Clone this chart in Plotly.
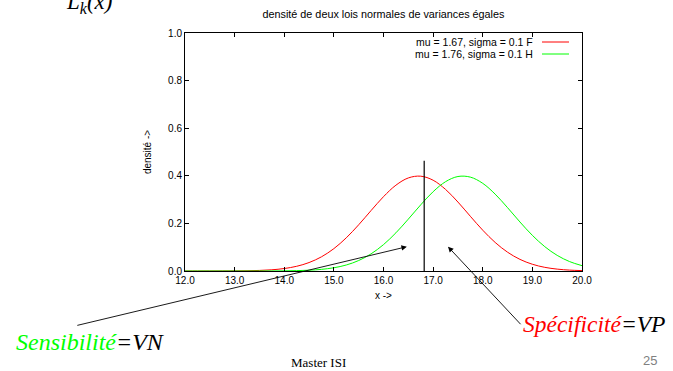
import plotly.graph_objects as go

# ---- data ----
x_vals = [12.0, 12.25, 12.5, 12.75, 13.0, 13.25, 13.5, 13.75, 14.0, 14.25, 14.5, 14.75,
          15.0, 15.25, 15.5, 15.75, 16.0, 16.25, 16.5, 16.75, 17.0, 17.25, 17.5, 17.75,
          18.0, 18.25, 18.5, 18.75, 19.0, 19.25, 19.5, 19.75, 20.0]
red_F = [0.0000, 0.0000, 0.0001, 0.0002, 0.0004, 0.0010, 0.0024, 0.0051, 0.0104, 0.0198,
         0.0355, 0.0596, 0.0940, 0.1394, 0.1942, 0.2541, 0.3123, 0.3605, 0.3910, 0.3984,
         0.3814, 0.3429, 0.2897, 0.2299, 0.1714, 0.1200, 0.0790, 0.0488, 0.0283, 0.0154,
         0.0079, 0.0038, 0.0017]
green_H = [0.0000, 0.0000, 0.0000, 0.0000, 0.0000, 0.0000, 0.0001, 0.0002, 0.0006, 0.0015,
           0.0033, 0.0069, 0.0136, 0.0252, 0.0440, 0.0721, 0.1109, 0.1604, 0.2179, 0.2780,
           0.3332, 0.3752, 0.3970, 0.3945, 0.3683, 0.3230, 0.2661, 0.2059, 0.1497, 0.1023,
           0.0656, 0.0396, 0.0224]
series_names = ["mu = 1.67, sigma = 0.1 F", "mu = 1.76, sigma = 0.1 H"]
threshold_x = [16.82, 16.82]
threshold_y = [0.0, 0.463]
x_ticks = [12, 13, 14, 15, 16, 17, 18, 19, 20]
y_ticks = [0.0, 0.2, 0.4, 0.6, 0.8, 1.0]

RED = "#ff0000"
GREEN = "#00ff00"
SANS = "Liberation Sans, Arial, sans-serif"
SERIF = "Liberation Serif, Times New Roman, serif"

fig = go.Figure()
fig.add_trace(go.Scatter(x=x_vals, y=red_F, mode="lines", line=dict(color=RED, width=1, shape="spline"),
                         name=series_names[0], showlegend=False))
fig.add_trace(go.Scatter(x=x_vals, y=green_H, mode="lines", line=dict(color=GREEN, width=1, shape="spline"),
                         name=series_names[1], showlegend=False))
fig.add_trace(go.Scatter(x=threshold_x, y=threshold_y, mode="lines", line=dict(color="black", width=1.2),
                         showlegend=False, hoverinfo="skip"))

axis_common = dict(showline=True, linecolor="black", linewidth=1, mirror="ticks", ticks="inside",
                   ticklen=4, tickcolor="black", showgrid=False, zeroline=False,
                   tickfont=dict(family=SANS, size=10, color="black"))

fig.update_layout(
    width=673, height=371,
    margin=dict(l=185, r=91, t=33, b=100),
    paper_bgcolor="white", plot_bgcolor="white",
    title=dict(text="densité de deux lois normales de variances égales", x=383.5 / 673, xanchor="center",
               y=1 - 14 / 371, yanchor="middle", font=dict(family=SANS, size=10.8, color="black")),
    xaxis=dict(range=[12, 20], tickvals=x_ticks, tickformat=".1f",
               title=dict(text="x ->", font=dict(family=SANS, size=10, color="black"), standoff=6),
               **axis_common),
    yaxis=dict(range=[0, 1], tickvals=y_ticks, tickformat=".1f",
               title=dict(text="densité ->", font=dict(family=SANS, size=10, color="black"), standoff=14),
               **axis_common),
)

def py2paper(py):
    return (271 - py) / 238

def px2paper(px):
    return (px - 185) / 397

# legend (gnuplot style: text right-aligned, sample line to the right)
legend_rows = [(series_names[0], RED, 42), (series_names[1], GREEN, 54)]
for label, col, py in legend_rows:
    yp = py2paper(py)
    fig.add_annotation(xref="paper", yref="paper", x=px2paper(535), y=yp, text=label,
                       showarrow=False, xanchor="right", yanchor="middle",
                       font=dict(family=SANS, size=10.5, color="black"))
    fig.add_shape(type="line", xref="paper", yref="paper", x0=px2paper(542), x1=px2paper(569),
                  y0=yp, y1=yp, line=dict(color=col, width=1))

# arrows
fig.add_annotation(x=16.47, y=0.102, xref="x", yref="y", ax=-331, ay=79, text="", showarrow=True,
                   arrowhead=2, arrowsize=1.2, arrowwidth=0.9, arrowcolor="black")
fig.add_annotation(x=17.30, y=0.102, xref="x", yref="y", ax=74, ay=79, text="", showarrow=True,
                   arrowhead=2, arrowsize=1.2, arrowwidth=0.9, arrowcolor="black")

fig.add_annotation(xref="paper", yref="paper", x=px2paper(14), y=py2paper(342), xanchor="left", yanchor="middle",
                   showarrow=False, text="<i><span style='color:#00ff00'>Sensibilité</span>=VN</i>",
                   font=dict(family=SERIF, size=24, color="black"))
fig.add_annotation(xref="paper", yref="paper", x=px2paper(521), y=py2paper(324), xanchor="left", yanchor="middle",
                   showarrow=False, text="<i><span style='color:#ff0000'>Spécificité</span>=VP</i>",
                   font=dict(family=SERIF, size=23.5, color="black"))
fig.add_annotation(xref="paper", yref="paper", x=px2paper(318), y=py2paper(362), xanchor="center", yanchor="middle",
                   showarrow=False, text="Master ISI", font=dict(family=SERIF, size=13, color="black"))
fig.add_annotation(xref="paper", yref="paper", x=px2paper(650), y=py2paper(360), xanchor="center", yanchor="middle",
                   showarrow=False, text="25", font=dict(family=SANS, size=13, color="#808080"))
fig.add_annotation(xref="paper", yref="paper", x=px2paper(64), y=py2paper(3), xanchor="left", yanchor="middle",
                   showarrow=False, text="<i>L<sub>k</sub>(x)</i>", font=dict(family=SERIF, size=23, color="black"))

fig.write_html("out.html", config={"displayModeBar": False},
               post_script="document.body.style.margin='0';document.body.style.padding='0';")
